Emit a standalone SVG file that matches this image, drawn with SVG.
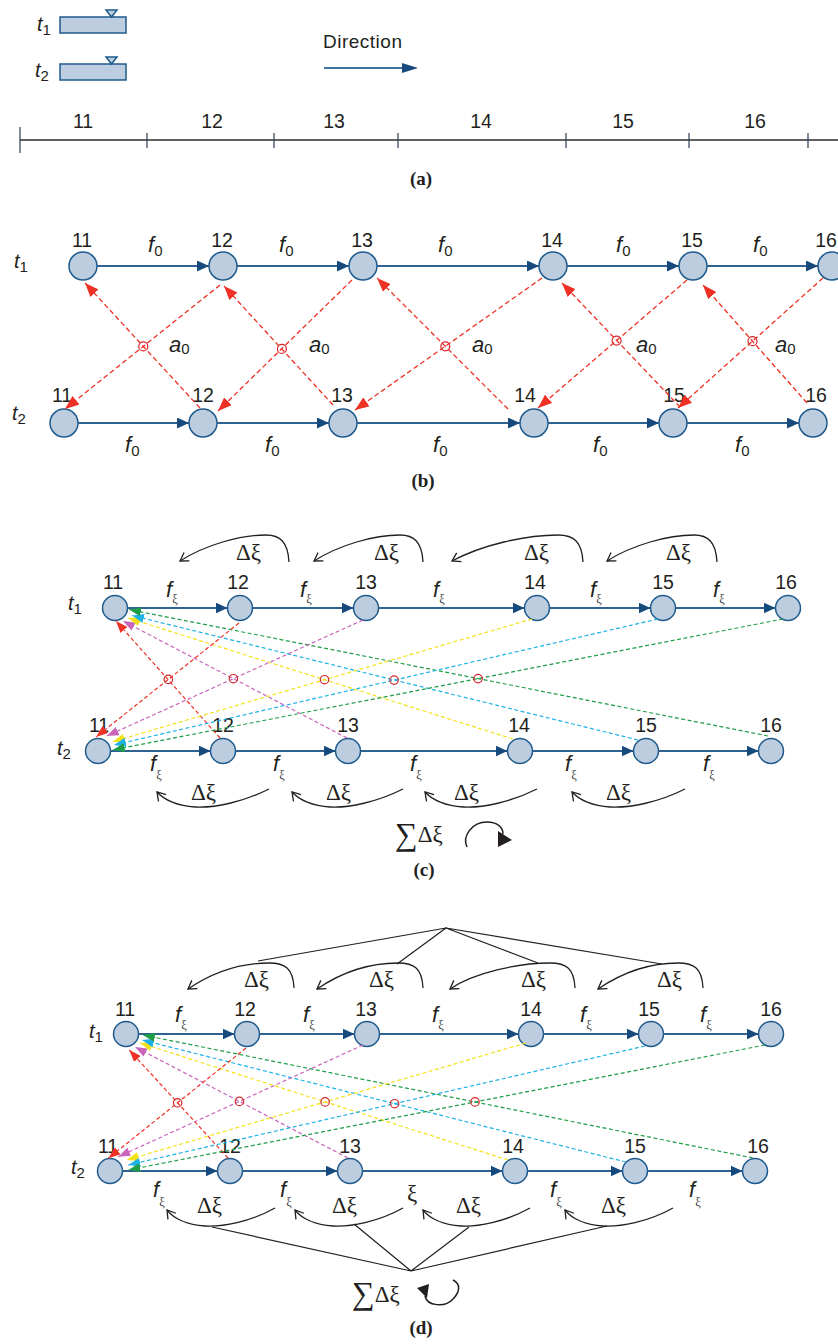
<svg xmlns="http://www.w3.org/2000/svg" width="838" height="1344" viewBox="0 0 838 1344">
<style>
text { font-family: 'Liberation Sans', Arial, sans-serif; fill: #231f20; }
.num { font-size: 19.5px; text-anchor: middle; }
.it { font-style: italic; font-size: 22px; }
.tl { font-style: italic; font-size: 20px; }
.sb { font-style: normal; font-size: 15px; }
.xs { font-family: 'Liberation Serif', 'DejaVu Serif', serif; font-style: normal; font-size: 12.5px; fill: #444; }
.dx { font-family: 'Liberation Serif', 'DejaVu Serif', serif; font-size: 23px; }
.cap { font-family: 'Liberation Serif', 'Times New Roman', serif; font-weight: bold; font-size: 19px; text-anchor: middle; }
.nd { fill: #bccde0; stroke: #1f5a8c; stroke-width: 1.5; }
.edge { stroke: #2f6193; stroke-width: 1.8; fill: none; marker-end: url(#mb); }
.rb { stroke: #ee3124; stroke-width: 1.3; stroke-dasharray: 5 3; fill: none; marker-end: url(#mrb); }
.d { stroke-width: 1.2; stroke-dasharray: 4 2.5; fill: none; }
.cr { stroke: #ee3124; marker-end: url(#mr); }
.cm { stroke: #c966bb; marker-end: url(#mm); }
.cy { stroke: #f5e11a; marker-end: url(#my); }
.cc { stroke: #1fb2e6; marker-end: url(#mc); }
.cg { stroke: #1f9e48; marker-end: url(#mg); }
.x { fill: none; stroke: #d8262b; stroke-width: 1.2; }
.arc { fill: none; stroke: #231f20; stroke-width: 1.3; marker-end: url(#chev); }
.ln { fill: none; stroke: #231f20; stroke-width: 1.2; }
</style>
<defs>
<marker id="mb" markerUnits="userSpaceOnUse" viewBox="0 0 12 11" refX="12" refY="5.5" markerWidth="12" markerHeight="11" orient="auto"><path d="M0,0 L12,5.5 L0,11 z" fill="#174a7c"/></marker>
<marker id="mrb" markerUnits="userSpaceOnUse" viewBox="0 0 14 11" refX="14" refY="5.5" markerWidth="14" markerHeight="11" orient="auto"><path d="M0,0 L14,5.5 L0,11 z" fill="#ee3124"/></marker>
<marker id="mr" markerUnits="userSpaceOnUse" viewBox="0 0 12 9" refX="12" refY="4.5" markerWidth="12" markerHeight="9" orient="auto"><path d="M0,0 L12,4.5 L0,9 z" fill="#ee3124"/></marker>
<marker id="mm" markerUnits="userSpaceOnUse" viewBox="0 0 12 9" refX="12" refY="4.5" markerWidth="12" markerHeight="9" orient="auto"><path d="M0,0 L12,4.5 L0,9 z" fill="#c966bb"/></marker>
<marker id="my" markerUnits="userSpaceOnUse" viewBox="0 0 12 9" refX="12" refY="4.5" markerWidth="12" markerHeight="9" orient="auto"><path d="M0,0 L12,4.5 L0,9 z" fill="#f5e11a"/></marker>
<marker id="mc" markerUnits="userSpaceOnUse" viewBox="0 0 12 9" refX="12" refY="4.5" markerWidth="12" markerHeight="9" orient="auto"><path d="M0,0 L12,4.5 L0,9 z" fill="#1fb2e6"/></marker>
<marker id="mg" markerUnits="userSpaceOnUse" viewBox="0 0 12 9" refX="12" refY="4.5" markerWidth="12" markerHeight="9" orient="auto"><path d="M0,0 L12,4.5 L0,9 z" fill="#1f9e48"/></marker>
<marker id="chev" markerUnits="userSpaceOnUse" viewBox="-1 -1 11 12" refX="8" refY="5" markerWidth="11" markerHeight="12" orient="auto"><path d="M0,0 L8,5 L0,10" fill="none" stroke="#231f20" stroke-width="1.3"/></marker>
</defs>
<rect width="838" height="1344" fill="#ffffff"/>

<!-- ===== Panel (a) ===== -->
<g id="a-t1">
<text class="tl" x="37" y="31">t<tspan class="sb" dy="4">1</tspan></text>
<rect class="nd" x="60" y="17" width="66" height="16" stroke-width="1.3"/>
<path class="nd" d="M106,10 L117,10 L111.5,17 z" stroke-width="1.2"/>
</g>
<g id="a-t2">
<text class="tl" x="35" y="77">t<tspan class="sb" dy="4">2</tspan></text>
<rect class="nd" x="60" y="64" width="66" height="16" stroke-width="1.3"/>
<path class="nd" d="M106,57 L117,57 L111.5,64 z" stroke-width="1.2"/>
</g>
<g id="a-direction">
<text x="323" y="48" font-size="19" letter-spacing="0.5">Direction</text>
<line x1="324" y1="68" x2="403" y2="68" stroke="#3f72a0" stroke-width="2"/>
<path d="M402,63 L418,68 L402,73 z" fill="#174a7c"/>
</g>
<g id="a-ruler">
<line x1="20" y1="140" x2="838" y2="140" stroke="#2b2b2b" stroke-width="1.3"/>
<g stroke="#2b3f55" stroke-width="1.2">
<line x1="20" y1="127" x2="20" y2="153"/>
<line x1="147" y1="133" x2="147" y2="148"/>
<line x1="274" y1="133" x2="274" y2="148"/>
<line x1="398" y1="133" x2="398" y2="148"/>
<line x1="566" y1="133" x2="566" y2="148"/>
<line x1="689" y1="133" x2="689" y2="148"/>
<line x1="808" y1="133" x2="808" y2="148"/>
</g>
<text class="num" x="83" y="128" font-size="18">11</text>
<text class="num" x="212" y="128" font-size="18">12</text>
<text class="num" x="334" y="128" font-size="18">13</text>
<text class="num" x="481" y="128" font-size="18">14</text>
<text class="num" x="623" y="128" font-size="18">15</text>
<text class="num" x="755" y="128" font-size="18">16</text>
</g>
<text class="cap" x="421" y="185">(a)</text>

<!-- ===== Panel (b) ===== -->
<text class="tl" x="14" y="268">t<tspan class="sb" dy="4">1</tspan></text>
<text class="tl" x="12" y="420">t<tspan class="sb" dy="4">2</tspan></text>
<g id="b-t1-11"><circle class="nd" cx="83" cy="266" r="14"/><text class="num" x="82" y="247">11</text></g>
<g id="b-t1-12"><circle class="nd" cx="223" cy="266" r="14"/><text class="num" x="222" y="247">12</text></g>
<g id="b-t1-13"><circle class="nd" cx="363" cy="266" r="14"/><text class="num" x="362" y="247">13</text></g>
<g id="b-t1-14"><circle class="nd" cx="553" cy="266" r="14"/><text class="num" x="552" y="247">14</text></g>
<g id="b-t1-15"><circle class="nd" cx="693" cy="266" r="14"/><text class="num" x="692" y="247">15</text></g>
<g id="b-t1-16"><circle class="nd" cx="832" cy="266" r="14"/><text class="num" x="826" y="247">16</text></g>
<g id="b-t2-11"><circle class="nd" cx="64" cy="423" r="14"/><text class="num" x="62" y="402">11</text></g>
<g id="b-t2-12"><circle class="nd" cx="203" cy="423" r="14"/><text class="num" x="203" y="402">12</text></g>
<g id="b-t2-13"><circle class="nd" cx="343" cy="423" r="14"/><text class="num" x="342" y="402">13</text></g>
<g id="b-t2-14"><circle class="nd" cx="534" cy="423" r="14"/><text class="num" x="525" y="402">14</text></g>
<g id="b-t2-15"><circle class="nd" cx="673" cy="423" r="14"/><text class="num" x="674" y="402">15</text></g>
<g id="b-t2-16"><circle class="nd" cx="813" cy="423" r="14"/><text class="num" x="816" y="402">16</text></g>

<g id="b-connectors">
<line class="edge" x1="97" y1="266" x2="209" y2="266"/>
<line class="edge" x1="237" y1="266" x2="349" y2="266"/>
<line class="edge" x1="377" y1="266" x2="539" y2="266"/>
<line class="edge" x1="567" y1="266" x2="679" y2="266"/>
<line class="edge" x1="707" y1="266" x2="818" y2="266"/>
<line class="edge" x1="78" y1="423" x2="189" y2="423"/>
<line class="edge" x1="217" y1="423" x2="329" y2="423"/>
<line class="edge" x1="357" y1="423" x2="520" y2="423"/>
<line class="edge" x1="548" y1="423" x2="659" y2="423"/>
<line class="edge" x1="687" y1="423" x2="799" y2="423"/>
<line class="rb" x1="220" y1="285" x2="65" y2="409"/>
<line class="rb" x1="200" y1="408" x2="85" y2="283"/>
<line class="rb" x1="352" y1="280" x2="218" y2="411"/>
<line class="rb" x1="333" y1="405" x2="224" y2="286"/>
<line class="rb" x1="542" y1="278" x2="355" y2="410"/>
<line class="rb" x1="508" y1="409" x2="377" y2="278"/>
<line class="rb" x1="687" y1="280" x2="538" y2="408"/>
<line class="rb" x1="680" y1="407" x2="562" y2="283"/>
<line class="rb" x1="823" y1="278" x2="678" y2="408"/>
<line class="rb" x1="807" y1="403" x2="703" y2="285"/>
<circle class="x" cx="143.3" cy="346.4" r="4.5"/>
<circle class="x" cx="281.9" cy="348.9" r="4.5"/>
<circle class="x" cx="445.3" cy="346.3" r="4.5"/>
<circle class="x" cx="616.6" cy="340.6" r="4.5"/>
<circle class="x" cx="752.5" cy="341.2" r="4.5"/>
<text class="it" x="148" y="252">f<tspan class="sb" dy="4">0</tspan></text>
<text class="it" x="279" y="252">f<tspan class="sb" dy="4">0</tspan></text>
<text class="it" x="438" y="252">f<tspan class="sb" dy="4">0</tspan></text>
<text class="it" x="616" y="252">f<tspan class="sb" dy="4">0</tspan></text>
<text class="it" x="753" y="252">f<tspan class="sb" dy="4">0</tspan></text>
<text class="it" x="125" y="452">f<tspan class="sb" dy="4">0</tspan></text>
<text class="it" x="265" y="452">f<tspan class="sb" dy="4">0</tspan></text>
<text class="it" x="433" y="452">f<tspan class="sb" dy="4">0</tspan></text>
<text class="it" x="593" y="452">f<tspan class="sb" dy="4">0</tspan></text>
<text class="it" x="735" y="452">f<tspan class="sb" dy="4">0</tspan></text>
<text class="it" x="169" y="352">a<tspan class="sb" dy="2">0</tspan></text>
<text class="it" x="309" y="352">a<tspan class="sb" dy="2">0</tspan></text>
<text class="it" x="472" y="352">a<tspan class="sb" dy="2">0</tspan></text>
<text class="it" x="636" y="352">a<tspan class="sb" dy="2">0</tspan></text>
<text class="it" x="775" y="352">a<tspan class="sb" dy="2">0</tspan></text>
</g>
<text class="cap" x="423" y="487">(b)</text>

<!-- ===== Panel (c) ===== -->
<text class="tl" x="68" y="610">t<tspan class="sb" dy="4">1</tspan></text>
<text class="tl" x="57" y="755">t<tspan class="sb" dy="4">2</tspan></text>
<g id="c-t1-11"><circle class="nd" cx="115" cy="608" r="12.5"/><text class="num" x="113" y="589">11</text></g>
<g id="c-t1-12"><circle class="nd" cx="240" cy="608" r="12.5"/><text class="num" x="238" y="589">12</text></g>
<g id="c-t1-13"><circle class="nd" cx="366" cy="608" r="12.5"/><text class="num" x="366" y="589">13</text></g>
<g id="c-t1-14"><circle class="nd" cx="537" cy="608" r="12.5"/><text class="num" x="535" y="589">14</text></g>
<g id="c-t1-15"><circle class="nd" cx="663" cy="608" r="12.5"/><text class="num" x="663" y="589">15</text></g>
<g id="c-t1-16"><circle class="nd" cx="788" cy="608" r="12.5"/><text class="num" x="786" y="589">16</text></g>
<g id="c-t2-11"><circle class="nd" cx="98" cy="751" r="12.5"/><text class="num" x="99" y="732">11</text></g>
<g id="c-t2-12"><circle class="nd" cx="223" cy="751" r="12.5"/><text class="num" x="223" y="732">12</text></g>
<g id="c-t2-13"><circle class="nd" cx="348" cy="751" r="12.5"/><text class="num" x="348" y="732">13</text></g>
<g id="c-t2-14"><circle class="nd" cx="520" cy="751" r="12.5"/><text class="num" x="519" y="732">14</text></g>
<g id="c-t2-15"><circle class="nd" cx="646" cy="751" r="12.5"/><text class="num" x="646" y="732">15</text></g>
<g id="c-t2-16"><circle class="nd" cx="771" cy="751" r="12.5"/><text class="num" x="771" y="732">16</text></g>

<g id="c-connectors">
<line class="edge" x1="127.5" y1="608" x2="227.5" y2="608"/>
<line class="edge" x1="252.5" y1="608" x2="353.5" y2="608"/>
<line class="edge" x1="378.5" y1="608" x2="524.5" y2="608"/>
<line class="edge" x1="549.5" y1="608" x2="650.5" y2="608"/>
<line class="edge" x1="675.5" y1="608" x2="775.5" y2="608"/>
<line class="edge" x1="110.5" y1="751" x2="210.5" y2="751"/>
<line class="edge" x1="235.5" y1="751" x2="335.5" y2="751"/>
<line class="edge" x1="360.5" y1="751" x2="507.5" y2="751"/>
<line class="edge" x1="532.5" y1="751" x2="633.5" y2="751"/>
<line class="edge" x1="658.5" y1="751" x2="758.5" y2="751"/>
<line class="d cr" x1="220" y1="738" x2="116" y2="621"/>
<line class="d cm" x1="347" y1="738" x2="123" y2="621"/>
<line class="d cy" x1="513" y1="739" x2="128" y2="618"/>
<line class="d cc" x1="638" y1="740" x2="132" y2="615.5"/>
<line class="d cg" x1="768" y1="736" x2="129" y2="609.5"/>
<line class="d cr" x1="239" y1="623" x2="96" y2="737"/>
<line class="d cm" x1="363" y1="620" x2="106.7" y2="736"/>
<line class="d cy" x1="532" y1="619" x2="112.7" y2="741.7"/>
<line class="d cc" x1="658" y1="619" x2="114" y2="745"/>
<line class="d cg" x1="783" y1="619" x2="112.7" y2="750"/>
<circle class="x" cx="168.3" cy="679.4" r="4.2"/>
<circle class="x" cx="233.4" cy="678.7" r="4.2"/>
<circle class="x" cx="324.5" cy="679.7" r="4.2"/>
<circle class="x" cx="394.1" cy="680.1" r="4.2"/>
<circle class="x" cx="478.1" cy="678.6" r="4.2"/>
<path class="arc" d="M289,562 C288,542 280,535 266,535 C240,535 205,545 180,561"/>
<path class="arc" d="M423,562 C422,542 414,535 400,535 C374,535 339,545 314,561"/>
<path class="arc" d="M583,562 C582,542 574,535 558,535 C525,535 482,545 452,561"/>
<path class="arc" d="M717,562 C716,542 708,535 694,535 C668,535 632,545 607,561"/>
<path class="arc" d="M269,789 C243,802 215,808 195,807 C178,806 164,800 157,792"/>
<path class="arc" d="M403,789 C377,802 349,808 330,807 C313,806 299,800 292,792"/>
<path class="arc" d="M537,789 C511,802 483,808 463,807 C446,806 432,800 425,792"/>
<path class="arc" d="M685,789 C659,802 631,808 610,807 C593,806 579,800 572,792"/>
<path d="M467,847 C462,836 472,822 487,822 C497,822 503,827 503,834" fill="none" stroke="#231f20" stroke-width="1.5"/>
<path d="M498,831 L498,847 L512,840 z" fill="#231f20"/>
<text class="it" x="166" y="597">f<tspan class="xs" dy="6">ξ</tspan></text>
<text class="it" x="300" y="597">f<tspan class="xs" dy="6">ξ</tspan></text>
<text class="it" x="433" y="597">f<tspan class="xs" dy="6">ξ</tspan></text>
<text class="it" x="590" y="597">f<tspan class="xs" dy="6">ξ</tspan></text>
<text class="it" x="713" y="597">f<tspan class="xs" dy="6">ξ</tspan></text>
<text class="it" x="150" y="771">f<tspan class="xs" dy="8">ξ</tspan></text>
<text class="it" x="273" y="771">f<tspan class="xs" dy="8">ξ</tspan></text>
<text class="it" x="410" y="771">f<tspan class="xs" dy="8">ξ</tspan></text>
<text class="it" x="565" y="771">f<tspan class="xs" dy="8">ξ</tspan></text>
<text class="it" x="703" y="771">f<tspan class="xs" dy="8">ξ</tspan></text>
<text class="dx" x="236" y="560">Δξ</text>
<text class="dx" x="374" y="560">Δξ</text>
<text class="dx" x="524" y="560">Δξ</text>
<text class="dx" x="666" y="560">Δξ</text>
<text class="dx" x="191" y="800">Δξ</text>
<text class="dx" x="326" y="800">Δξ</text>
<text class="dx" x="454" y="800">Δξ</text>
<text class="dx" x="606" y="800">Δξ</text>
<text class="dx" x="395" y="842"><tspan font-size="32" dy="3">∑</tspan><tspan dy="-3">Δξ</tspan></text>
</g>
<text class="cap" x="424" y="876">(c)</text>

<!-- ===== Panel (d) ===== -->
<text class="tl" x="89" y="1038">t<tspan class="sb" dy="4">1</tspan></text>
<text class="tl" x="71" y="1174">t<tspan class="sb" dy="4">2</tspan></text>
<g id="d-t1-11"><circle class="nd" cx="126" cy="1034" r="12.5"/><text class="num" x="125" y="1016">11</text></g>
<g id="d-t1-12"><circle class="nd" cx="247" cy="1034" r="12.5"/><text class="num" x="245" y="1016">12</text></g>
<g id="d-t1-13"><circle class="nd" cx="367" cy="1034" r="12.5"/><text class="num" x="366" y="1016">13</text></g>
<g id="d-t1-14"><circle class="nd" cx="531" cy="1034" r="12.5"/><text class="num" x="531" y="1016">14</text></g>
<g id="d-t1-15"><circle class="nd" cx="651" cy="1034" r="12.5"/><text class="num" x="649" y="1016">15</text></g>
<g id="d-t1-16"><circle class="nd" cx="771" cy="1034" r="12.5"/><text class="num" x="771" y="1016">16</text></g>
<g id="d-t2-11"><circle class="nd" cx="110" cy="1171" r="12.5"/><text class="num" x="108" y="1153">11</text></g>
<g id="d-t2-12"><circle class="nd" cx="230" cy="1171" r="12.5"/><text class="num" x="230" y="1153">12</text></g>
<g id="d-t2-13"><circle class="nd" cx="350" cy="1171" r="12.5"/><text class="num" x="350" y="1153">13</text></g>
<g id="d-t2-14"><circle class="nd" cx="515" cy="1171" r="12.5"/><text class="num" x="513" y="1153">14</text></g>
<g id="d-t2-15"><circle class="nd" cx="635" cy="1171" r="12.5"/><text class="num" x="635" y="1153">15</text></g>
<g id="d-t2-16"><circle class="nd" cx="755" cy="1171" r="12.5"/><text class="num" x="758" y="1153">16</text></g>

<g id="d-connectors">
<line class="edge" x1="138.5" y1="1034" x2="234.5" y2="1034"/>
<line class="edge" x1="259.5" y1="1034" x2="354.5" y2="1034"/>
<line class="edge" x1="379.5" y1="1034" x2="518.5" y2="1034"/>
<line class="edge" x1="543.5" y1="1034" x2="638.5" y2="1034"/>
<line class="edge" x1="663.5" y1="1034" x2="758.5" y2="1034"/>
<line class="edge" x1="122.5" y1="1171" x2="217.5" y2="1171"/>
<line class="edge" x1="242.5" y1="1171" x2="337.5" y2="1171"/>
<line class="edge" x1="362.5" y1="1171" x2="502.5" y2="1171"/>
<line class="edge" x1="527.5" y1="1171" x2="622.5" y2="1171"/>
<line class="edge" x1="647.5" y1="1171" x2="742.5" y2="1171"/>
<line class="d cr" x1="228" y1="1158" x2="129.3" y2="1050"/>
<line class="d cm" x1="348" y1="1158" x2="135" y2="1047"/>
<line class="d cy" x1="508" y1="1160" x2="140" y2="1043"/>
<line class="d cc" x1="626" y1="1162" x2="142" y2="1040"/>
<line class="d cg" x1="753" y1="1158" x2="143" y2="1035"/>
<line class="d cr" x1="246" y1="1048" x2="108.3" y2="1158.3"/>
<line class="d cm" x1="363" y1="1045" x2="118.3" y2="1156.7"/>
<line class="d cy" x1="526" y1="1043" x2="126.7" y2="1160"/>
<line class="d cc" x1="645" y1="1046" x2="128.3" y2="1165"/>
<line class="d cg" x1="765" y1="1045" x2="128.3" y2="1170"/>
<circle class="x" cx="177.6" cy="1102.8" r="4.2"/>
<circle class="x" cx="239.4" cy="1101.4" r="4.2"/>
<circle class="x" cx="325.1" cy="1101.9" r="4.2"/>
<circle class="x" cx="394.6" cy="1103.7" r="4.2"/>
<circle class="x" cx="475" cy="1101.9" r="4.2"/>
<path class="arc" d="M294,988 C293,968 285,963 269,963 C239,963 213,972 188,989"/>
<path class="arc" d="M423,988 C422,968 414,963 398,963 C368,963 342,972 317,989"/>
<path class="arc" d="M575,988 C574,968 566,963 550,963 C520,963 475,972 450,989"/>
<path class="arc" d="M703,988 C702,968 694,963 678,963 C648,963 623,972 598,989"/>
<path class="arc" d="M275,1208 C250,1222 222,1227 205,1226 C188,1225 174,1219 167,1210"/>
<path class="arc" d="M403,1208 C378,1222 350,1227 333,1226 C316,1225 302,1219 295,1210"/>
<path class="arc" d="M530,1208 C505,1222 477,1227 461,1226 C444,1225 430,1219 423,1210"/>
<path class="arc" d="M673,1208 C648,1222 620,1227 603,1226 C586,1225 572,1219 565,1210"/>
<path class="ln" d="M258,961 L446,928 L397,964 M446,928 L538,963 M446,928 L662,964"/>
<path class="ln" d="M212,1227 L411,1271 L354,1224 M411,1271 L469,1227 M411,1271 L607,1226"/>
<path d="M425,1296 C427,1306 445,1308 453,1299 C460,1292 461,1284 453,1280" fill="none" stroke="#231f20" stroke-width="1.5"/>
<path d="M417,1288 L429,1284 L427,1298 z" fill="#231f20"/>
<text class="it" x="175" y="1022">f<tspan class="xs" dy="7">ξ</tspan></text>
<text class="it" x="303" y="1022">f<tspan class="xs" dy="7">ξ</tspan></text>
<text class="it" x="432" y="1022">f<tspan class="xs" dy="7">ξ</tspan></text>
<text class="it" x="580" y="1022">f<tspan class="xs" dy="7">ξ</tspan></text>
<text class="it" x="700" y="1022">f<tspan class="xs" dy="7">ξ</tspan></text>
<text class="it" x="153" y="1197">f<tspan class="xs" dy="9">ξ</tspan></text>
<text class="it" x="280" y="1197">f<tspan class="xs" dy="9">ξ</tspan></text>
<text class="dx" x="407" y="1201">ξ</text>
<text class="it" x="550" y="1197">f<tspan class="xs" dy="9">ξ</tspan></text>
<text class="it" x="689" y="1197">f<tspan class="xs" dy="9">ξ</tspan></text>
<text class="dx" x="244" y="987">Δξ</text>
<text class="dx" x="369" y="987">Δξ</text>
<text class="dx" x="521" y="987">Δξ</text>
<text class="dx" x="657" y="987">Δξ</text>
<text class="dx" x="197" y="1213">Δξ</text>
<text class="dx" x="332" y="1213">Δξ</text>
<text class="dx" x="456" y="1213">Δξ</text>
<text class="dx" x="601" y="1213">Δξ</text>
<text class="dx" x="352" y="1302"><tspan font-size="32" dy="2">∑</tspan><tspan dy="-2">Δξ</tspan></text>
</g>
<text class="cap" x="421" y="1334">(d)</text>
</svg>
